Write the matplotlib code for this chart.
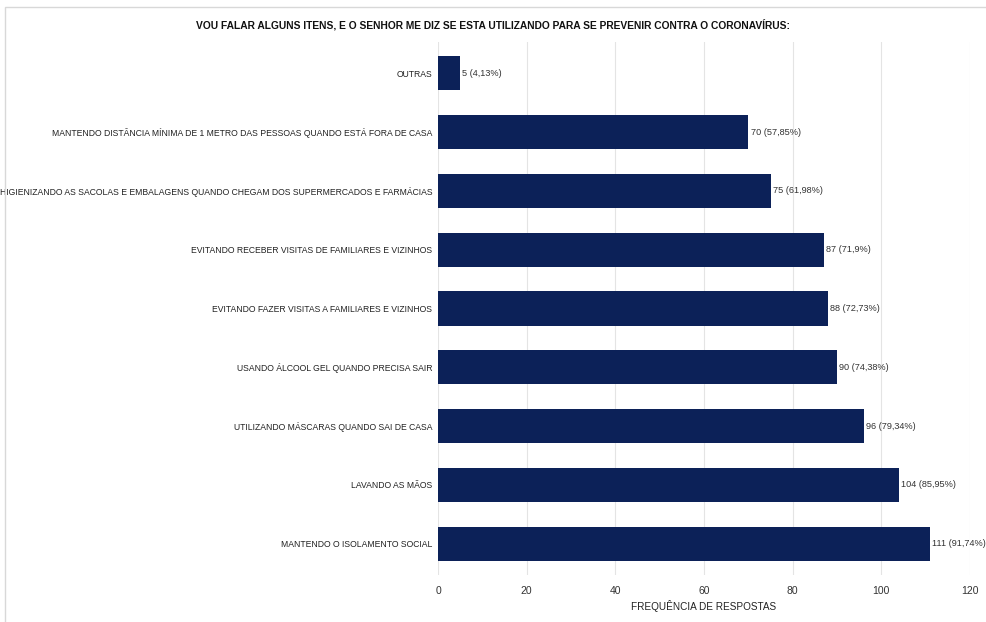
import matplotlib.pyplot as plt
from matplotlib.patches import Rectangle
from matplotlib import font_manager

# categories, top to bottom in the picture
categories = [
    'OUTRAS',
    'MANTENDO DISTÂNCIA MÍNIMA DE 1 METRO DAS PESSOAS QUANDO ESTÁ FORA DE CASA',
    'HIGIENIZANDO AS SACOLAS E EMBALAGENS QUANDO CHEGAM DOS SUPERMERCADOS E FARMÁCIAS',
    'EVITANDO RECEBER VISITAS DE FAMILIARES E VIZINHOS',
    'EVITANDO FAZER VISITAS A FAMILIARES E VIZINHOS',
    'USANDO ÁLCOOL GEL QUANDO PRECISA SAIR',
    'UTILIZANDO MÁSCARAS QUANDO SAI DE CASA',
    'LAVANDO AS MÃOS',
    'MANTENDO O ISOLAMENTO SOCIAL',
]
counts = [5, 70, 75, 87, 88, 90, 96, 104, 111]
percents = ['4,13%', '57,85%', '61,98%', '71,9%', '72,73%', '74,38%', '79,34%', '85,95%', '91,74%']
xticks = [0, 20, 40, 60, 80, 100, 120]

names = {f.name for f in font_manager.fontManager.ttflist}
narrow = 'Liberation Sans Narrow' if 'Liberation Sans Narrow' in names else 'Liberation Sans'
plt.rcParams['font.family'] = [narrow, 'DejaVu Sans']

fig = plt.figure(figsize=(9.86, 6.22), dpi=100)
ax = fig.add_axes([438 / 986, 1 - 575 / 622, 532 / 986, 533 / 622])

ypos = list(range(len(categories)))
ax.barh(ypos, counts, height=0.58, color='#0c2158', zorder=3)

# value labels
for y, c, p in zip(ypos, counts, percents):
    ax.text(c + 0.5, y, '%d (%s)' % (c, p), va='center', ha='left',
            fontsize=6.6, color='#333333', zorder=4, clip_on=False)

ax.set_xlim(0, 120)
ax.set_ylim(8.53, -0.53)
ax.set_xticks(xticks)
ax.set_yticks(ypos)
ax.set_yticklabels(categories, fontsize=6.2, color='#222222')
ax.tick_params(axis='x', labelsize=7.5, colors='#333333', length=0, pad=8)
ax.tick_params(axis='y', length=0, pad=4)
ax.grid(axis='x', color='#e4e4e4', linewidth=0.8, zorder=0)
for s in ax.spines.values():
    s.set_visible(False)

ax.set_xlabel('FREQUÊNCIA DE RESPOSTAS', fontsize=7.2, color='#222222', labelpad=3)
fig.text(0.5, 1 - 25 / 622, 'VOU FALAR ALGUNS ITENS, E O SENHOR ME DIZ SE ESTA UTILIZANDO PARA SE PREVENIR CONTRA O CORONAVÍRUS:',
         ha='center', va='center', fontsize=7.4, fontweight='bold', color='#111111')

# light frame around the chart area
fig.patches.append(Rectangle((5 / 986, -0.01), 1.02, 1 - 7 / 622 + 0.01, transform=fig.transFigure,
                             fill=False, edgecolor='#d8d8d8', linewidth=1))

plt.savefig('out.png', dpi=100)
